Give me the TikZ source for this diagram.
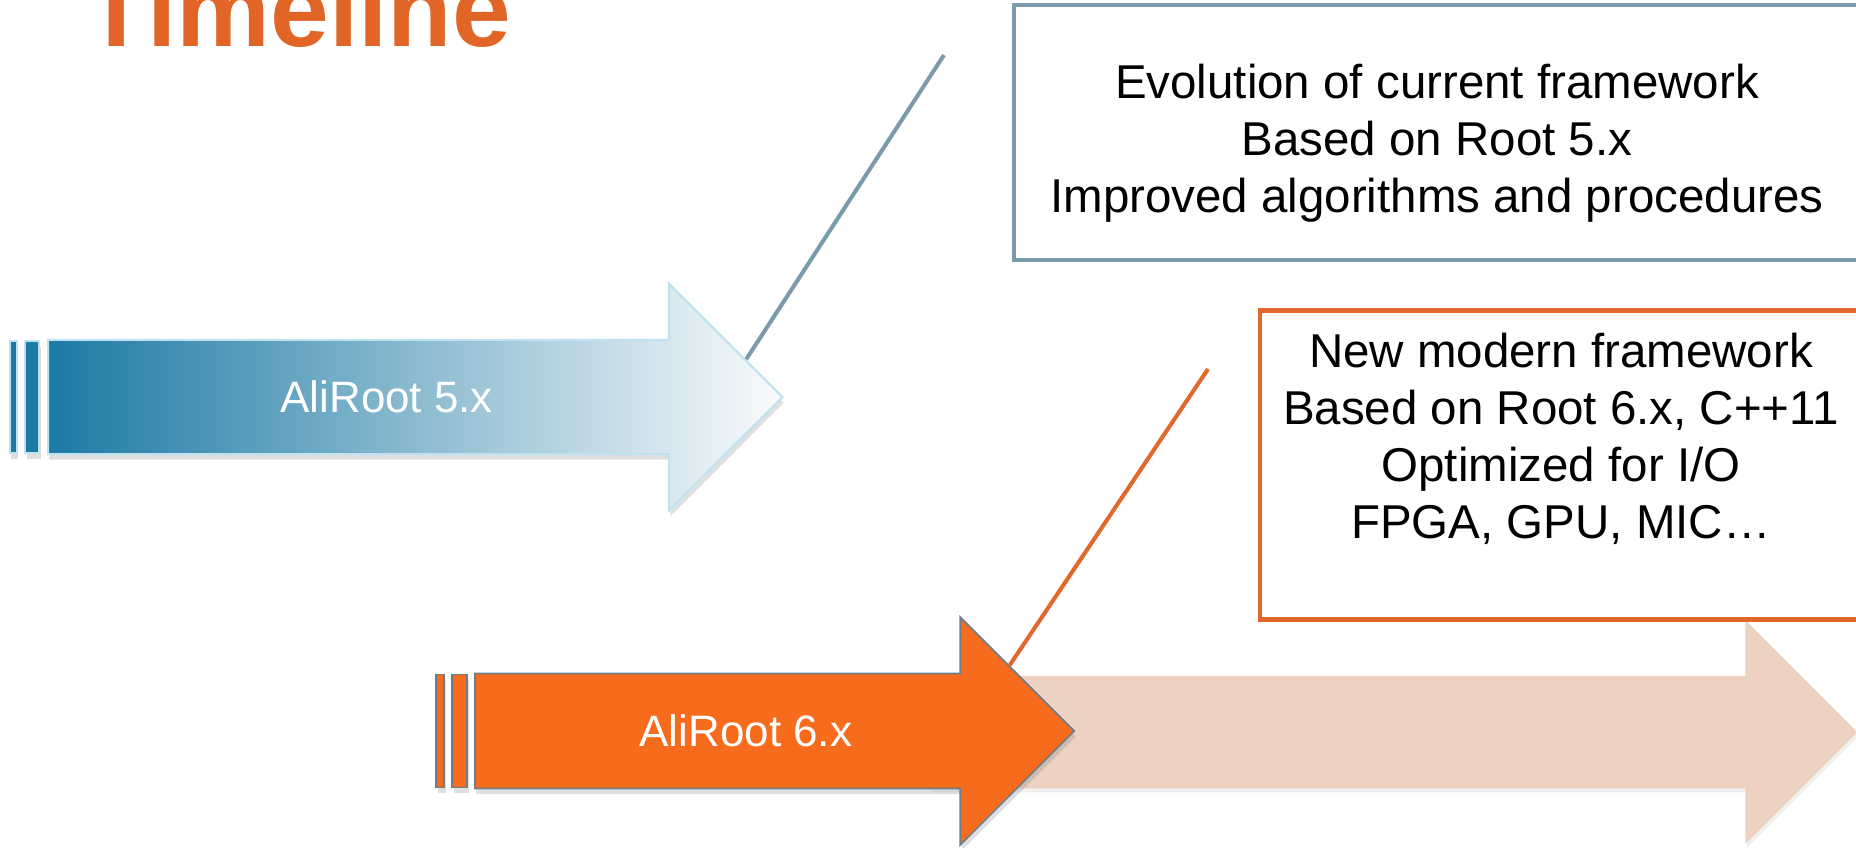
\documentclass[tikz,border=0pt]{standalone}
\usepackage{fontspec}
\setmainfont{Liberation Sans}
\usetikzlibrary{shapes.arrows,positioning,shadows}

\definecolor{tealdark}{RGB}{28,122,164}
\definecolor{tealmid}{RGB}{160,182,200}
\definecolor{tealpale}{RGB}{250,251,252}
\definecolor{tealline}{RGB}{190,226,240}
\definecolor{slate}{RGB}{123,154,171}
\definecolor{rust}{RGB}{226,103,42}
\definecolor{titleorange}{RGB}{224,101,38}
\definecolor{flame}{RGB}{247,107,28}
\definecolor{flameline}{RGB}{110,125,135}
\definecolor{peach}{RGB}{237,209,193}

\begin{document}
\begin{tikzpicture}[
                        x=0.01cm, y=-0.01cm,
                        timearrow/.style={single arrow, single arrow tip angle=90, inner xsep=0pt, anchor=tail},
                        arrow5/.style={timearrow, minimum height=7.34cm, inner ysep=0.56cm, single arrow head extend=0.565cm,
                                       left color=tealdark, middle color=tealmid, right color=tealpale, draw=tealline, line width=0.6pt,
                                       drop shadow={shadow xshift=0.4pt, shadow yshift=-1.6pt, opacity=0.25}},
                        arrow6/.style={timearrow, minimum height=5.99cm, inner ysep=0.565cm, single arrow head extend=0.565cm,
                                       fill=flame, draw=flameline, line width=0.5pt,
                                       drop shadow={shadow xshift=0.4pt, shadow yshift=-1.6pt, opacity=0.25}},
                        futurearrow/.style={timearrow, minimum height=9.26cm, inner ysep=0.555cm, single arrow head extend=0.555cm,
                                       fill=peach, drop shadow={shadow xshift=0.4pt, shadow yshift=-1.2pt, opacity=0.12}},
                        bar5/.style={rectangle, inner sep=0pt, minimum height=1.12cm, fill=tealdark, draw=tealline, line width=0.5pt,
                                     drop shadow={shadow xshift=0.4pt, shadow yshift=-1.6pt, opacity=0.25}},
                        bar6/.style={rectangle, inner sep=0pt, minimum height=1.13cm, fill=flame, draw=flameline, line width=0.5pt,
                                     drop shadow={shadow xshift=0.4pt, shadow yshift=-1.6pt, opacity=0.25}},
                        tag/.style={text=white, font=\fontsize{12.5}{15}\selectfont, inner sep=0pt},
                        frame/.style={rectangle, inner sep=0pt, fill=white, line width=1.2pt},
                        note/.style={align=center, inner sep=0pt, font=\fontsize{13.5}{16.2}\selectfont},
                        headline/.style={anchor=base west, inner sep=0pt, text=titleorange,
                                         font=\fontsize{30}{36}\selectfont\bfseries},
                        callout/.style={line width=1.15pt}
                    ]
                    \useasboundingbox (0,0) rectangle (1856,847);

                    % Title
                    \node [headline] (title) at (84,46) {Timeline};

                    % Arrows
                    \node [futurearrow] (future) at (930,732) {};
                    \node [arrow6] (aliroot6) at (474,731) {};
                    \node [arrow5] (aliroot5) at (47,397) {};
                    \node [tag] (label5) at (aliroot5.center) {AliRoot 5.x};
                    \node [tag] (label6) at (aliroot6.center) {AliRoot 6.x};

                    % Stripes
                    \node [bar5, minimum width=0.14cm, left=0.07cm of aliroot5.tail] (bar5b) {};
                    \node [bar5, minimum width=0.07cm, left=0.065cm of bar5b] (bar5a) {};
                    \node [bar6, minimum width=0.15cm, left=0.06cm of aliroot6.tail] (bar6b) {};
                    \node [bar6, minimum width=0.08cm, left=0.06cm of bar6b] (bar6a) {};

                    % Boxes
                    \node [frame, draw=slate, minimum width=8.48cm, minimum height=2.55cm] (evolutionbox) at (1438,132.5) {};
                    \node [note] (evolution) at (1437,143)
                          {Evolution of current framework\\Based on Root 5.x\\Improved algorithms and procedures};
                    \node [frame, draw=rust, minimum width=6.04cm, minimum height=3.09cm] (modernbox) at (1562,465) {};
                    \node [note] (modern) at (1561,439)
                          {New modern framework\\Based on Root 6.x, C++11\\Optimized for I/O\\FPGA, GPU, MIC…};

                    % Connections
                    \coordinate (callout5) at (944,55);
                    \coordinate (callout6) at (1208,369);
                    \draw [callout, slate] (aliroot5.6.4) -- (callout5);
                    \draw [callout, rust] (aliroot6.14.6) -- (callout6);
                \end{tikzpicture}
\end{document}
